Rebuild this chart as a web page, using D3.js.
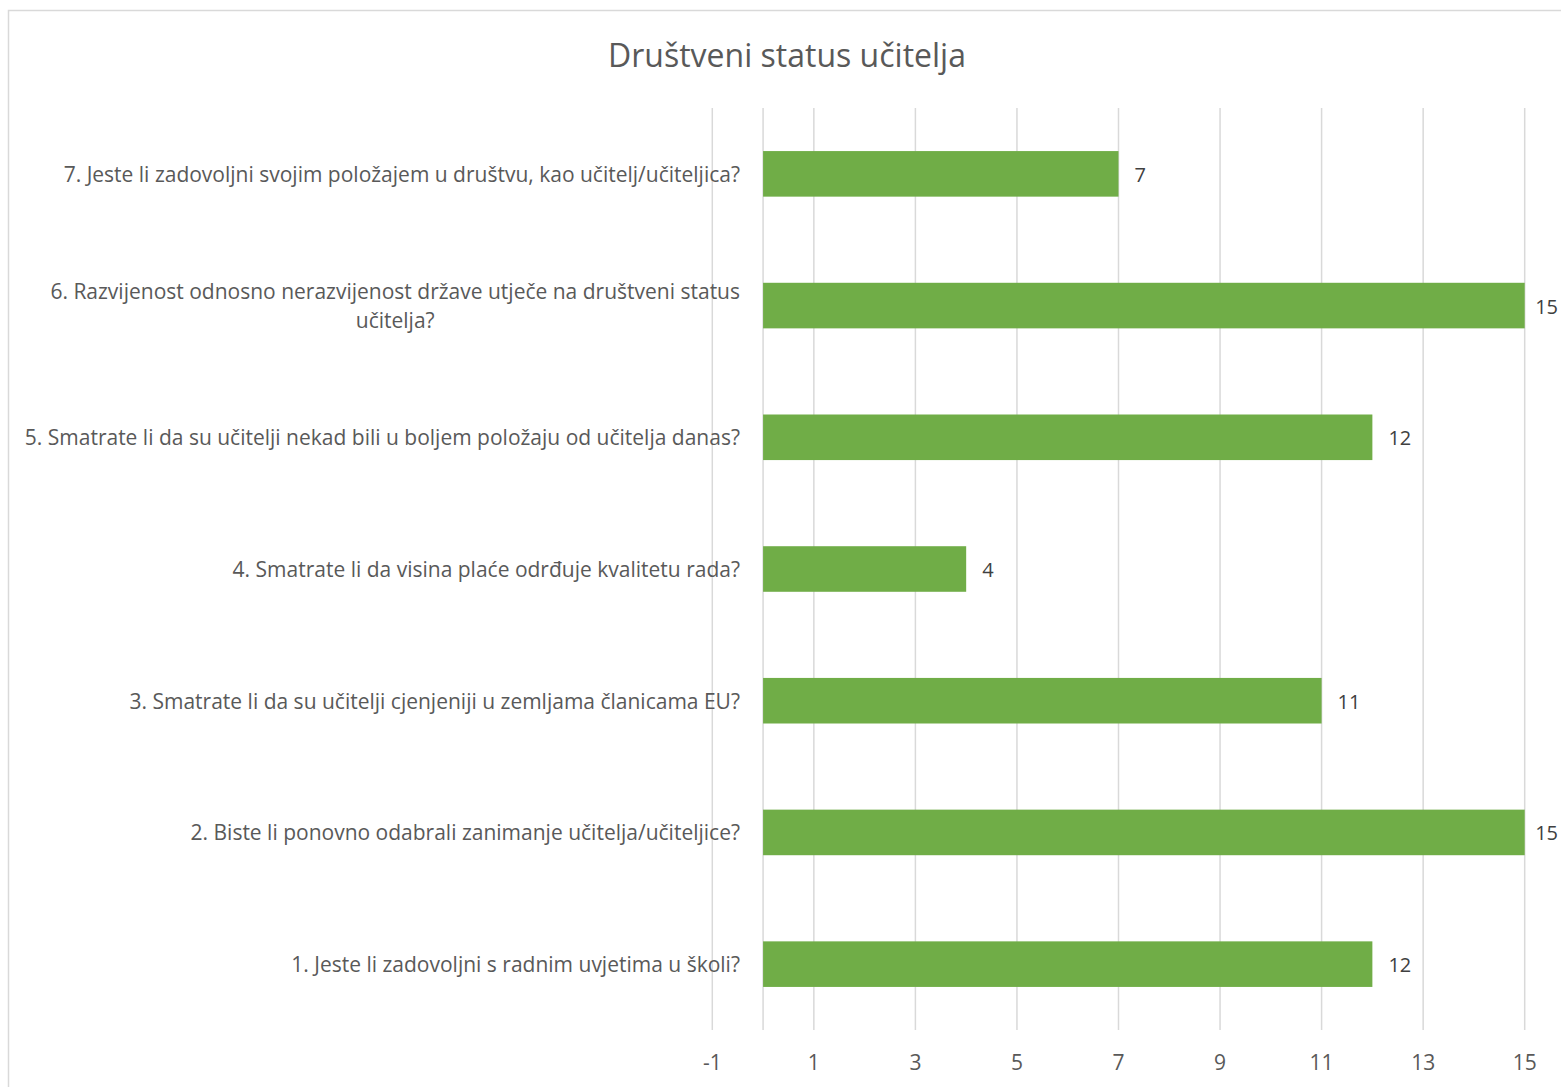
<!DOCTYPE html>
<html>
<head>
<meta charset="utf-8">
<script src="https://cdn.jsdelivr.net/npm/d3@7"></script>
<style>
  body { margin: 0; background: #fff; }
  svg text { font-family: "Open Sans", "Noto Sans", sans-serif; }
</style>
</head>
<body>
<div id="chart"></div>
<script>
// categories, bottom to top as in the sheet
var categories = [
  "1. Jeste li zadovoljni s radnim uvjetima u školi?",
  "2. Biste li ponovno odabrali zanimanje učitelja/učiteljice?",
  "3. Smatrate li da su učitelji cjenjeniji u zemljama članicama EU?",
  "4. Smatrate li da visina plaće odrđuje kvalitetu rada?",
  "5. Smatrate li da su učitelji nekad bili u boljem položaju od učitelja danas?",
  "6. Razvijenost odnosno nerazvijenost države utječe na društveni status\nučitelja?",
  "7. Jeste li zadovoljni svojim položajem u društvu, kao učitelj/učiteljica?"
];
var values = [12, 15, 11, 4, 12, 15, 7];
var tickValues = [-1, 1, 3, 5, 7, 9, 11, 13, 15];
var title = "Društveni status učitelja";

var W = 1561, H = 1087;
var svg = d3.select("#chart").append("svg").attr("width", W).attr("height", H);

// chart border (right/bottom run off the picture)
svg.append("rect")
  .attr("x", 8.5).attr("y", 10.5)
  .attr("width", W + 20).attr("height", H + 20)
  .attr("fill", "#fff").attr("stroke", "#d9d9d9").attr("stroke-width", 1.5);

svg.append("text")
  .attr("x", 787).attr("y", 67)
  .attr("text-anchor", "middle")
  .attr("font-size", 32)
  .attr("fill", "#595959")
  .text(title);

var x = d3.scaleLinear().domain([-1, 15]).range([712.3, 1524.7]);
var y = d3.scaleBand()
  .domain(categories.slice().reverse())
  .range([108, 1030])
  .paddingInner(0.654)
  .paddingOuter(0.327);

// gridlines + category axis line at 0
var grid = svg.append("g");
grid.selectAll("line").data(tickValues.concat([0]))
  .join("line")
  .attr("x1", d => x(d)).attr("x2", d => x(d))
  .attr("y1", 108).attr("y2", 1030)
  .attr("stroke", "#d9d9d9").attr("stroke-width", 1.5);

// x tick labels
svg.append("g").selectAll("text").data(tickValues)
  .join("text")
  .attr("x", d => x(d)).attr("y", 1070)
  .attr("text-anchor", "middle")
  .attr("font-size", 21)
  .attr("fill", "#595959")
  .text(d => d);

// bars
svg.append("g").selectAll("rect").data(values)
  .join("rect")
  .attr("x", x(0))
  .attr("y", (d, i) => y(categories[i]))
  .attr("width", d => x(d) - x(0))
  .attr("height", y.bandwidth())
  .attr("fill", "#70ad47");

// data labels
svg.append("g").selectAll("text").data(values)
  .join("text")
  .attr("y", (d, i) => y(categories[i]) + y.bandwidth() / 2 + 8)
  .attr("font-size", 20)
  .attr("fill", "#404040")
  .text(d => d)
  .attr("x", function(d) {
    var w = this.getComputedTextLength();
    return Math.min(x(d) + 16, W - 3 - w);
  });

// category labels, block right-aligned, lines centred inside the block
var labelRight = 740;
categories.forEach(function(c, i) {
  var lines = c.split("\n");
  var g = svg.append("g");
  var cy = y(c) + y.bandwidth() / 2;
  var lh = 29;
  var texts = lines.map(function(l, k) {
    return g.append("text")
      .attr("y", cy + (k - (lines.length - 1) / 2) * lh + 8)
      .attr("font-size", 21)
      .attr("fill", "#595959")
      .attr("text-anchor", "middle")
      .text(l);
  });
  var maxW = d3.max(texts, t => t.node().getComputedTextLength());
  texts.forEach(t => t.attr("x", labelRight - maxW / 2));
});
</script>
</body>
</html>
